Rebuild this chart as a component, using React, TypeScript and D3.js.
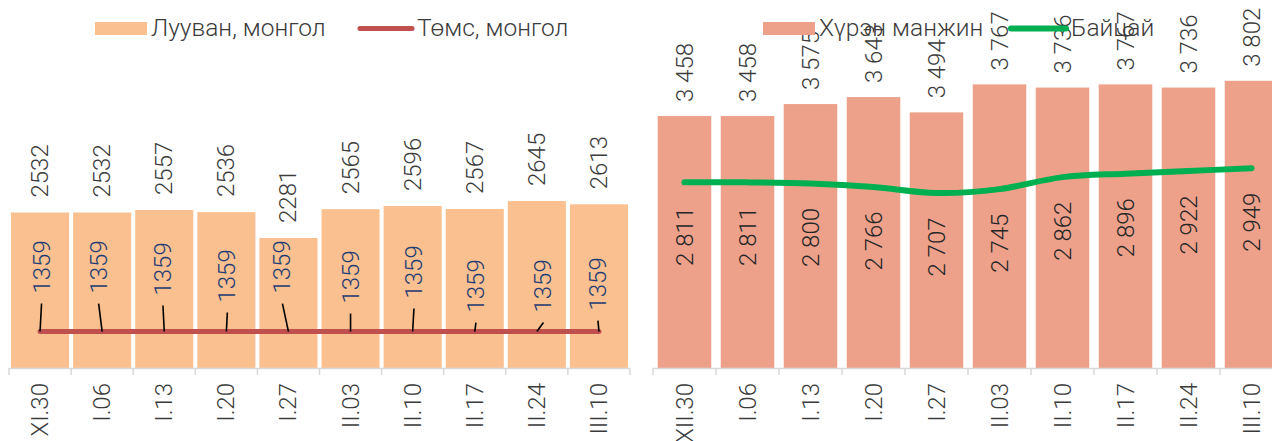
import * as d3 from 'd3';

const leftCats = ['XI.30', 'I.06', 'I.13', 'I.20', 'I.27', 'II.03', 'II.10', 'II.17', 'II.24', 'III.10'];
const carrot = [2532, 2532, 2557, 2536, 2281, 2565, 2596, 2567, 2645, 2613];
const potato = [1359, 1359, 1359, 1359, 1359, 1359, 1359, 1359, 1359, 1359];

const rightCats = ['XII.30', 'I.06', 'I.13', 'I.20', 'I.27', 'II.03', 'II.10', 'II.17', 'II.24', 'III.10'];
const beet = [3458, 3458, 3575, 3643, 3494, 3767, 3736, 3767, 3736, 3802];
const cabbage = [2811, 2811, 2800, 2766, 2707, 2745, 2862, 2896, 2922, 2949];

// manually dragged potato labels (dx from point, label bottom above line)
const potatoNudge = [
  [1.5, 38], [-3.5, 38], [-1.3, 36], [1, 29], [-6, 38],
  [0, 28], [1.3, 33], [1.2, 19], [6.6, 19], [-1, 21],
];

const W = 1272;
const H = 441;
const FONT = 'Roboto, sans-serif';
const TXT = '#3b3b3b';
const base = 368;

const spaced = d3.formatLocale({ decimal: '.', thousands: ' ', grouping: [3], currency: ['', ''] }).format(',');

function Axis({ x, cats }: { x: d3.ScaleBand<string>; cats: string[] }) {
  const [r0, r1] = x.range();
  const step = x.step();
  return (
    <g>
      <line x1={r0} x2={r1} y1={base + 0.5} y2={base + 0.5} stroke="#d9d9d9" strokeWidth={1.5} />
      {d3.range(cats.length + 1).map(i => (
        <line key={i} x1={r0 + i * step} x2={r0 + i * step} y1={base} y2={base + 7} stroke="#d9d9d9" strokeWidth={1.5} />
      ))}
      {cats.map(c => (
        <text key={c} transform={`translate(${x(c)! + x.bandwidth() / 2},${base + 15}) rotate(-90)`}
          textAnchor="end" dominantBaseline="central" fontSize={24} fill={TXT}>{c}</text>
      ))}
    </g>
  );
}

function LeftChart() {
  const x = d3.scaleBand<string>().domain(leftCats).range([9, 630]).paddingInner(0.065).paddingOuter(0.0325);
  const y = d3.scaleLinear().domain([1000, 3000]).range([base, 165]);
  const cx = (i: number) => x(leftCats[i])! + x.bandwidth() / 2;
  const line = d3.line<number>().x((_, i) => cx(i)).y(d => y(d)).curve(d3.curveCardinal.tension(0));
  return (
    <g>
      {carrot.map((v, i) => (
        <rect key={i} x={x(leftCats[i])} y={y(v)} width={x.bandwidth()} height={base - y(v)} fill="#fac090" />
      ))}
      {carrot.map((v, i) => (
        <text key={i} transform={`translate(${cx(i)},${y(v) - 15}) rotate(-90)`} dominantBaseline="central"
          fontSize={24} fill={TXT}>{v}</text>
      ))}
      <Axis x={x} cats={leftCats} />
      <path d={line(potato)!} fill="none" stroke="#c0504d" strokeWidth={5} strokeLinecap="round" />
      {potato.map((v, i) => {
        const [dx, up] = potatoNudge[i];
        const lx = cx(i) + dx;
        const ly = y(v) - up;
        return (
          <g key={i}>
            <line x1={lx} y1={ly + 10} x2={cx(i)} y2={y(v)} stroke="#000" strokeWidth={1.6} />
            <text transform={`translate(${lx},${ly}) rotate(-90)`} dominantBaseline="central" fontSize={24}
              fill="#1f3b73">{v}</text>
          </g>
        );
      })}
      <rect x={95} y={22} width={52} height={13} fill="#fac090" />
      <text x={151} y={36} fontSize={24.5} fill={TXT}>Лууван, монгол</text>
      <line x1={360} x2={412} y1={28.5} y2={28.5} stroke="#c0504d" strokeWidth={5} strokeLinecap="round" />
      <text x={417} y={36} fontSize={24.5} fill={TXT}>Төмс, монгол</text>
    </g>
  );
}

function RightChart() {
  const x = d3.scaleBand<string>().domain(rightCats).range([653, 1283]).paddingInner(0.15).paddingOuter(0.075);
  const y = d3.scaleLinear().domain([1000, 4000]).range([base, base - 307.5]);
  const cx = (i: number) => x(rightCats[i])! + x.bandwidth() / 2;
  const line = d3.line<number>().x((_, i) => cx(i)).y(d => y(d)).curve(d3.curveCardinal.tension(0));
  return (
    <g>
      {beet.map((v, i) => (
        <rect key={i} x={x(rightCats[i])} y={y(v)} width={x.bandwidth()} height={base - y(v)} fill="#eda18a" />
      ))}
      {beet.map((v, i) => (
        <text key={i} transform={`translate(${cx(i)},${y(v) - 14}) rotate(-90)`} dominantBaseline="central"
          fontSize={24} fill={TXT}>{spaced(v)}</text>
      ))}
      <Axis x={x} cats={rightCats} />
      <path d={line(cabbage)!} fill="none" stroke="#00b050" strokeWidth={6} strokeLinecap="round" />
      {cabbage.map((v, i) => (
        <text key={i} transform={`translate(${cx(i)},${y(v) + 54}) rotate(-90)`} textAnchor="middle"
          dominantBaseline="central" fontSize={24} fill="#262626">{spaced(v)}</text>
      ))}
      <rect x={763} y={22} width={52} height={13} fill="#eda18a" />
      <text x={819} y={36} fontSize={24.5} fill={TXT}>Хүрэн манжин</text>
      <line x1={1011} x2={1066} y1={28.5} y2={28.5} stroke="#00b050" strokeWidth={6} strokeLinecap="round" />
      <text x={1071} y={36} fontSize={24.5} fill={TXT}>Байцай</text>
    </g>
  );
}

export default function App() {
  return (
    <svg width={W} height={H} style={{ position: 'absolute', left: 0, top: 0, background: '#fff' }}
      fontFamily={FONT} fontWeight={300}>
      <LeftChart />
      <RightChart />
    </svg>
  );
}
